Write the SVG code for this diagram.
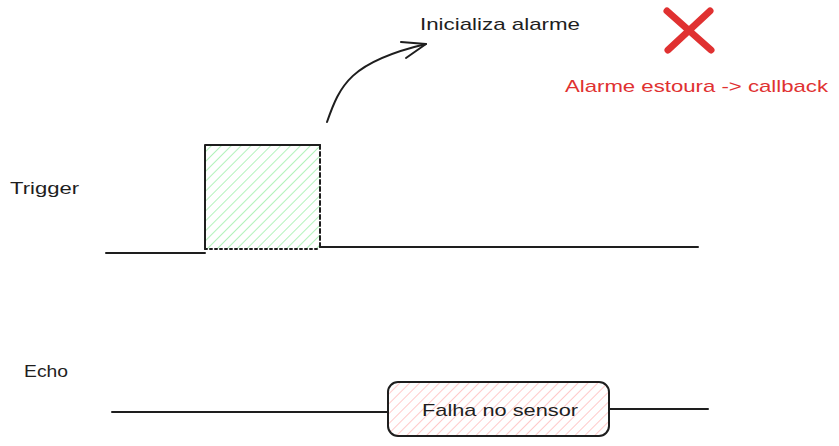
<svg xmlns="http://www.w3.org/2000/svg" width="839" height="446" viewBox="0 0 839 446">
<style>
.t{font-family:"Liberation Sans",Arial,sans-serif;font-size:17px;fill:#1e1e1e}
.r{fill:#e03131}
.ln{stroke:#1e1e1e;stroke-width:2;fill:none;stroke-linecap:round;stroke-linejoin:round}
</style>
<defs>
<pattern id="hg" width="7" height="7" patternUnits="userSpaceOnUse" patternTransform="rotate(45)">
<line x1="0" y1="0" x2="0" y2="7" stroke="#b2f2bb" stroke-width="2"/>
</pattern>
<pattern id="hp" width="7" height="7" patternUnits="userSpaceOnUse" patternTransform="rotate(45)">
<line x1="0" y1="0" x2="0" y2="7" stroke="#ffc9c9" stroke-width="2"/>
</pattern>
</defs>
<rect width="839" height="446" fill="#ffffff"/>
<g id="trigger-label"><text class="t" x="10" y="194" textLength="69" lengthAdjust="spacingAndGlyphs">Trigger</text></g>
<g id="echo-label"><text class="t" x="24" y="377" textLength="44" lengthAdjust="spacingAndGlyphs">Echo</text></g>
<g id="pulse">
<rect x="205" y="145" width="115" height="104" fill="url(#hg)"/>
<path class="ln" d="M205,249 L205,145 L320,145" stroke-width="2.5"/>
<path class="ln" d="M320,145 L320,249" stroke-width="2.5" stroke-dasharray="4 3"/>
<path class="ln" d="M205,249 L320,249" stroke-width="2.5" stroke-dasharray="2 3"/>
</g>
<g id="fail-box">
<rect x="388" y="382" width="221" height="54" rx="10" fill="url(#hp)" stroke="#1e1e1e" stroke-width="2"/>
<text class="t" x="422" y="416" textLength="156" lengthAdjust="spacingAndGlyphs">Falha no sensor</text>
</g>
<g id="init-label"><text class="t" x="420" y="30" textLength="160" lengthAdjust="spacingAndGlyphs">Inicializa alarme</text></g>
<g id="x-mark">
<path d="M667,11 L711,50 M710,11 L668,50" stroke="#e03131" stroke-width="7" stroke-linecap="round" fill="none"/>
</g>
<g id="alarm-label"><text class="t r" x="565" y="92" textLength="263" lengthAdjust="spacingAndGlyphs">Alarme estoura -&gt; callback</text></g>
<g id="connectors">
<path class="ln" d="M106,253 L205,253"/>
<path class="ln" d="M320,247 L698,247"/>
<path class="ln" d="M112,412 L388,412"/>
<path class="ln" d="M609,409 L708,409" stroke-width="2.5"/>
<path class="ln" d="M327,122 C340,85 350,62 426,44"/>
<path class="ln" d="M401,42 L426,44 L406,58"/>
</g>
</svg>
